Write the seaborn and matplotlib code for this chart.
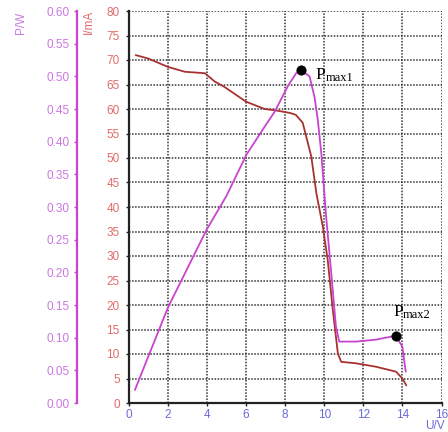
import matplotlib
matplotlib.use("Agg")
import matplotlib.pyplot as plt
import seaborn as sns
import pandas as pd

# Current-voltage curve (U in V, I in mA)
u_current = [0.36, 1.0, 2.0, 2.87, 3.9, 4.4, 4.9, 6.0, 6.95, 7.55, 8.24, 8.55, 8.9,
             9.34, 9.6, 9.93, 10.18, 10.44, 10.7, 10.87, 11.63, 12.65, 13.67, 14.0, 14.2]
i_current = [71.0, 70.3, 68.6, 67.6, 67.3, 65.6, 64.5, 61.5, 60.0, 59.7, 59.2, 58.8, 57.2,
             50.3, 42.8, 36.0, 29.2, 19.0, 10.1, 8.4, 8.1, 7.4, 6.4, 5.0, 3.6]

# Power-voltage curve (U in V, P in W)
u_power = [0.32, 1.0, 2.02, 3.0, 3.98, 5.0, 6.02, 7.0, 7.47, 8.14, 8.57, 8.83, 9.25,
           9.5, 9.67, 9.85, 10.1, 10.36, 10.6, 10.77, 11.63, 12.65, 13.33, 13.66, 14.0, 14.17]
p_power = [0.020, 0.071, 0.147, 0.206, 0.265, 0.317, 0.380, 0.425, 0.446, 0.485, 0.505, 0.509, 0.500,
           0.469, 0.434, 0.383, 0.285, 0.199, 0.117, 0.094, 0.094, 0.097, 0.101, 0.103, 0.086, 0.048]

# Maximum power points and their label anchors
pmax_u = [8.83, 13.66]
pmax_p = [0.509, 0.103]
pmax_subs = ["max1", "max2"]
label_u = [9.57, 13.53]
label_p = [0.496, 0.133]

x_ticks = [0, 2, 4, 6, 8, 10, 12, 14, 16]
i_ticks = list(range(0, 81, 5))
p_ticks = [0.00, 0.05, 0.10, 0.15, 0.20, 0.25, 0.30, 0.35, 0.40, 0.45, 0.50, 0.55, 0.60]

sns.set_style("white")
plt.rcParams["font.family"] = ["Liberation Sans", "DejaVu Sans"]

c_curr = "#a83232"
c_pow = "#c844d0"
c_i_tick = "#e26a6a"
c_p_tick = "#cc77e0"
c_x_tick = "#6a6ad8"
fs = 8.5

fig = plt.figure(figsize=(4.48, 4.32), dpi=100)
ax = fig.add_axes([128.7 / 448, 29 / 432, (441.5 - 128.7) / 448, (403 - 11) / 432])

df_i = pd.DataFrame({"U": u_current, "I": i_current})
df_p = pd.DataFrame({"U": u_power, "P": p_power})
df_m = pd.DataFrame({"U": pmax_u, "P": pmax_p})

sns.lineplot(data=df_i, x="U", y="I", ax=ax, color=c_curr, lw=1.3, sort=False)
ax.set_xlim(0, 16)
ax.set_ylim(0, 80)
ax.set_xticks(x_ticks)
ax.set_yticks(i_ticks)
ax.grid(True, color="#333333", linestyle=(0, (1, 1)), linewidth=1.1)
ax.set_axisbelow(True)
ax.set_xlabel("")
ax.set_ylabel("")
for s in ["top", "right"]:
    ax.spines[s].set_visible(False)
for s in ["left", "bottom"]:
    ax.spines[s].set_color("#222222")
    ax.spines[s].set_linewidth(1.6)
ax.tick_params(axis="y", colors="#222222", labelcolor=c_i_tick, labelsize=fs,
               direction="out", length=2.5, width=1, left=True, pad=4)
ax.tick_params(axis="x", colors="#222222", labelcolor=c_x_tick, labelsize=fs,
               direction="out", length=2.5, width=1, bottom=True, pad=2)

ax2 = ax.twinx()
sns.lineplot(data=df_p, x="U", y="P", ax=ax2, color=c_pow, lw=1.3, sort=False)
sns.scatterplot(data=df_m, x="U", y="P", ax=ax2, color="black", s=45, zorder=5,
                edgecolor="black")
ax2.set_ylim(0, 0.60)
ax2.set_yticks(p_ticks)
ax2.set_yticklabels([f"{v:.2f}" for v in p_ticks])
ax2.set_xlabel("")
ax2.set_ylabel("")
ax2.yaxis.set_ticks_position("left")
ax2.spines["left"].set_position(("axes", -(128.7 - 77) / (441.5 - 128.7)))
ax2.spines["left"].set_visible(True)
ax2.spines["left"].set_color(c_pow)
ax2.spines["left"].set_linewidth(1.6)
for s in ["top", "right", "bottom"]:
    ax2.spines[s].set_visible(False)
ax2.tick_params(axis="y", colors=c_pow, labelcolor=c_p_tick, labelsize=fs,
                direction="out", length=2.5, width=1, pad=3)

# "P" with a lowered "max" subscript next to each maximum power point
for lu, lp, sub in zip(label_u, label_p, pmax_subs):
    ax2.annotate("P", (lu, lp), fontsize=12.5, family="Liberation Serif",
                 color="black", va="baseline")
    ax2.annotate(sub, (lu, lp), xytext=(7.0, -1.5), textcoords="offset points",
                 fontsize=9, family="Liberation Serif", color="black", va="baseline")

fig.text(21 / 448, 1 - 23 / 432, "P/W", rotation=90, color=c_p_tick, fontsize=fs,
         ha="center", va="center")
fig.text(88.5 / 448, 1 - 22 / 432, "I/mA", rotation=90, color=c_i_tick, fontsize=fs,
         ha="center", va="center")
fig.text(434.5 / 448, 1 - 426 / 432, "U/V", color=c_x_tick, fontsize=fs,
         ha="center", va="center")

fig.savefig("out.png", dpi=100)
